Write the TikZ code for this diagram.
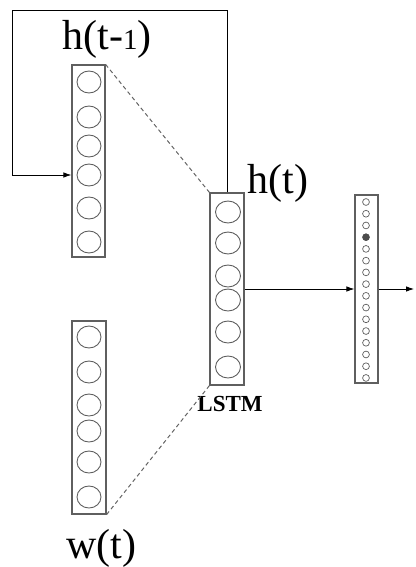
\documentclass[tikz,border=0pt]{standalone}
\usepackage{fontspec}
\setmainfont{Liberation Serif}
\usepackage{tikz}
\usetikzlibrary{arrows.meta, positioning, calc}
\definecolor{boxgray}{RGB}{95, 95, 95}
\definecolor{dashgray}{RGB}{100, 100, 100}
\tikzset{
  layerbox/.style={rectangle, draw=boxgray, line width=1.2pt, inner sep=0pt,
              minimum width=#1},
  layerbox/.default=33pt,
  unit/.style={draw=boxgray, line width=0.9pt},
  arrow/.style={-{Latex[length=8pt, width=5.5pt]}, line width=0.8pt, color=black},
  dashline/.style={dashed, line width=1pt, color=dashgray, dash pattern=on 4pt off 3pt},
  bigtext/.style={font=\fontsize{42}{46}\selectfont, inner sep=0pt, anchor=base},
}
\newcommand{\lowone}{{\fontsize{29}{30}\selectfont 1}}

\begin{document}
\begin{tikzpicture}[x=1pt, y=-1pt]
  \useasboundingbox (0,0) rectangle (415,567);

  % layers
  \node[layerbox, minimum height=192pt] (prevh) at (88.5,161) {};
  \node[layerbox=34pt, minimum height=192pt] (lstm) at (227,289) {};
  \node[layerbox=34pt, minimum height=193pt] (word) at (89,417.5) {};
  \node[layerbox=23pt, minimum height=188pt] (out) at (366.5,289) {};

  % units
  \foreach \y in {82,117,146,175,208,242}
    \draw[unit] (89,\y) ellipse [x radius=12pt, y radius=11pt];
  \foreach \y in {212,243,276,300,332,367}
    \draw[unit] (228,\y) ellipse [x radius=12.5pt, y radius=11pt];
  \foreach \y in {337,372,405,431,462,497}
    \draw[unit] (89,\y) ellipse [x radius=12pt, y radius=11pt];
  \foreach \i in {0,...,15}
    \draw[unit, line width=0.7pt] (366,{202+11.73*\i}) circle [radius=3.4pt];
  \fill[boxgray!80!black] (366,{202+11.73*3}) circle [radius=3.6pt];

  % labels
  \node[bigtext] (prevlabel) at (107,50) {h(t-\lowone)};
  \node[bigtext] (hlabel) at (278,193) {h(t)};
  \node[bigtext] (wlabel) at (101,558) {w(t)};
  \node[font=\fontsize{23}{25}\selectfont\bfseries, inner sep=0pt] (lstmlabel) at (230,404) {LSTM};

  % connections
  \coordinate (loopR) at (227,10);
  \coordinate (loopL) at (12,10);
  \coordinate (outend) at (414,289);
  \draw[arrow] (lstm.north) -- (loopR) -- (loopL) |- (prevh.west |- 0,175);
  \draw[arrow] (lstm.east) -- (out.west);
  \draw[arrow] (out.east) -- (outend);
  \draw[dashline] (prevh.north east) -- (lstm.north west);
  \draw[dashline] (word.south east) -- (lstm.south west);
\end{tikzpicture}
\end{document}
